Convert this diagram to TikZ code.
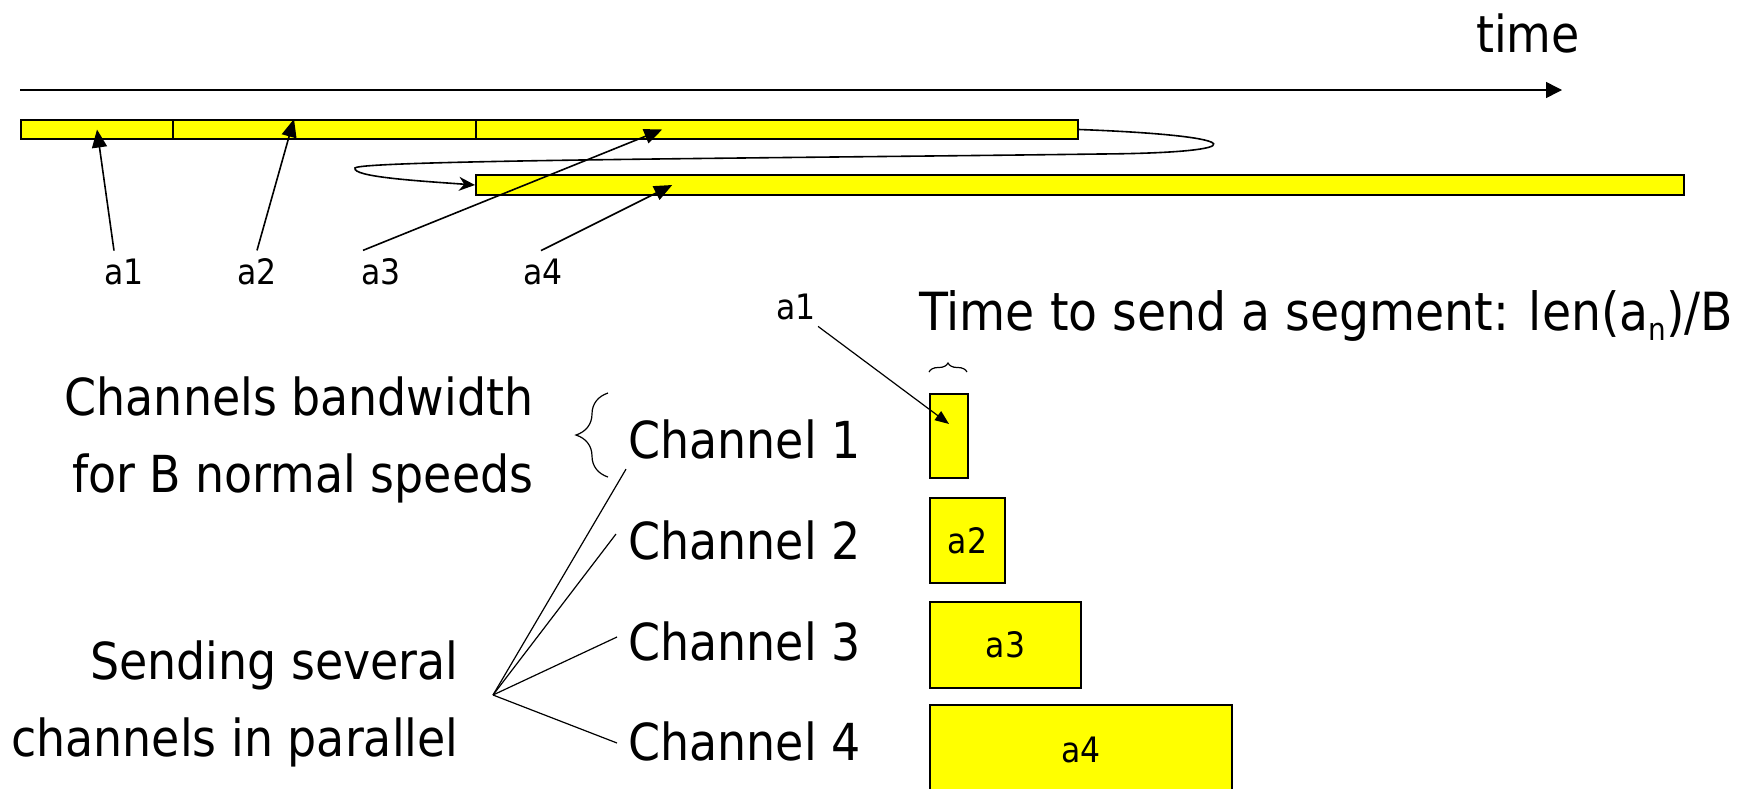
\documentclass[tikz,border=0pt]{standalone}
\usepackage{fontspec}
\setmainfont{DejaVu Sans Condensed}
\usetikzlibrary{arrows.meta,decorations.pathreplacing,calc}
\definecolor{ybar}{RGB}{255,255,0}
\begin{document}
\begin{tikzpicture}[x=0.5pt,y=-0.5pt,
  big/.style={font=\fontsize{25.5}{38.5}\selectfont, inner sep=0pt},
  small/.style={font=\fontsize{17.5}{21}\selectfont, inner sep=0pt},
  bar/.style={draw=black, line width=1pt, fill=ybar, inner sep=0pt, anchor=north west, minimum height=9.5pt},
  chbox/.style={draw=black, line width=1pt, fill=ybar, inner sep=0pt, anchor=north west, font=\fontsize{17.5}{21}\selectfont},
  ptr/.style={line width=0.8pt, -{Triangle[length=9pt,width=7.5pt]}},
  thin/.style={line width=0.6pt}]
\clip (0,0) rectangle (1740,788);
\useasboundingbox (0,0) rectangle (1740,788);
% time axis
\coordinate (t0) at (20,90);
\coordinate (t1) at (1562,90);
\draw[line width=0.75pt, -{Triangle[length=8pt,width=8pt]}] (t0) -- (t1);
\node[big] (time) at (1528,33) {time};
% bars
\node[bar, minimum width=76pt] (s1) at (20,119) {};
\node[bar, minimum width=151.5pt] (s2) at (172,119) {};
\node[bar, minimum width=301pt] (s3) at (475,119) {};
\node[bar, minimum width=604pt, minimum height=10pt] (b2) at (475,174) {};
% wrap-around curve
\draw[line width=0.8pt, -{Stealth[length=8pt,width=7pt]}] (s3.east)
  .. controls (1255,136) and (1255,153) .. (1100,154)
  .. controls (800,158) and (360,160) .. (355,168)
  .. controls (352,177) and (420,181) .. (b2.west);
% labels a1..a4
\node[small] (la1) at (124,272) {a1};
\node[small] (la2) at (257,272) {a2};
\node[small] (la3) at (381,272) {a3};
\node[small] (la4) at (543,272) {a4};
\draw[ptr] ($(la1.north)+(-10,-8)$) -- (s1.center);
\draw[ptr] ($(la2.north)+(0,-8)$) -- ($(s2.north west)!0.4!(s2.north east)$);
\draw[ptr] ($(la3.north)+(-18,-8)$) -- ($(s3.west)!0.31!(s3.east)$);
\draw[ptr] ($(la4.north)+(-2,-8)$) -- ($(b2.west)!0.163!(b2.east)$);
% channel boxes
\node[chbox, minimum width=19pt, minimum height=42pt] (box1) at (929,393) {};
\node[chbox, minimum width=37.5pt, minimum height=42.5pt] (box2) at (929,497) {a2};
\node[chbox, minimum width=75.5pt, minimum height=43pt] (box3) at (929,601) {a3};
\node[chbox, minimum width=151pt, minimum height=45pt] (box4) at (929,704) {a4};
% segment time annotation
\node[big, anchor=west, font=\fontsize{26.3}{30}\selectfont] (tts) at (919,316) {Time to send a segment: len(a\raisebox{-0.35ex}{\fontsize{15.5}{15.5}\selectfont n})/B};
\coordinate (brl) at (929,372);
\coordinate (brr) at (967,372);
\draw[thin, decorate, decoration={brace, amplitude=4.5pt}] (brl) -- (brr);
\node[small] (lb1) at (796,307) {a1};
\draw[line width=0.6pt, -{Triangle[length=7pt,width=5.5pt]}] ($(lb1.south east)+(2,6)$) -- ($(box1.north)!0.36!(box1.south)$);
% channels
\node[big, anchor=west] (ch1) at (628,439) {Channel 1};
\node[big, anchor=west] (ch2) at (628,540) {Channel 2};
\node[big, anchor=west] (ch3) at (628,641) {Channel 3};
\node[big, anchor=west] (ch4) at (628,741) {Channel 4};
% bandwidth text and brace
\node[big, align=right, anchor=east] (bw) at (534,440) {Channels bandwidth\\for B normal speeds};
\coordinate (bb) at (608,477);
\coordinate (bt) at (608,393);
\draw[thin, decorate, decoration={brace, amplitude=16pt}] (bb) -- (bt);
% sending several
\node[big, align=right, anchor=east] (send) at (459,704) {Sending several\\channels in parallel};
\coordinate (hub) at (493,695);
\draw[thin] (hub) -- ($(ch1.south west)+(-2,10)$);
\draw[thin] (hub) -- ($(ch2.west)+(-12,-6)$);
\draw[thin] (hub) -- ($(ch3.west)+(-11,-4)$);
\draw[thin] (hub) -- ($(ch4.west)+(-11,2)$);
\end{tikzpicture}
\end{document}
